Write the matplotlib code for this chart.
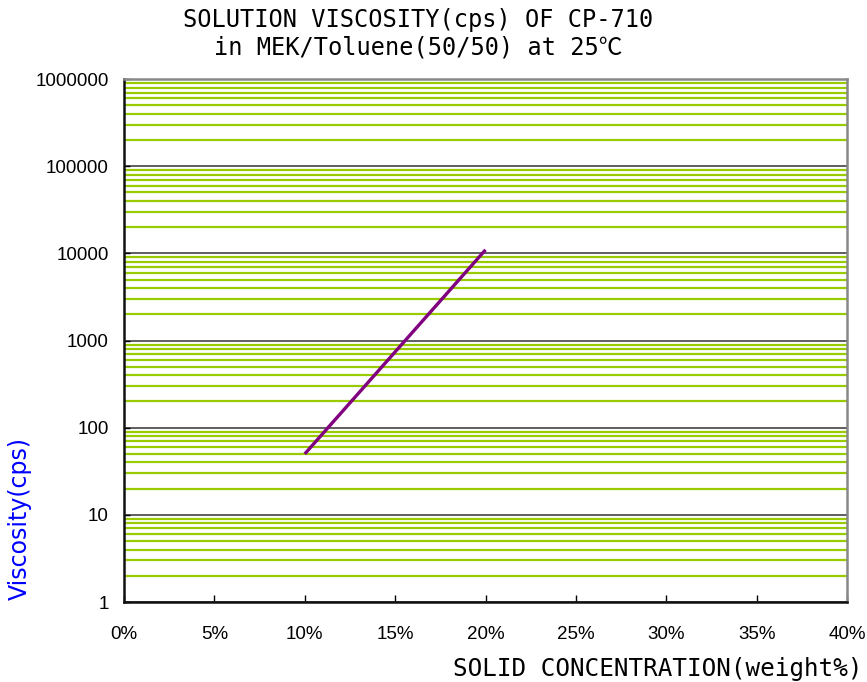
import matplotlib
matplotlib.use('Agg')
import matplotlib.pyplot as plt
import numpy as np
from matplotlib.ticker import FuncFormatter, LogLocator, NullFormatter

plt.rcParams['font.family'] = ['Liberation Sans', 'DejaVu Sans']
plt.rcParams['font.size'] = 12

# 데이터
conc = [10, 20]          # 고형분 농도 (wt%)
visc = [50, 11000]       # 점도 (cps)

x_ticks = [0, 5, 10, 15, 20, 25, 30, 35, 40]
y_ticks = [1, 10, 100, 1000, 10000, 100000, 1000000]

mono = ['DejaVu Sans Mono', 'Noto Sans CJK KR']

fig = plt.figure(figsize=(8.67, 6.82), dpi=100)
ax = fig.add_axes([0.143, 0.1173, 0.834, 0.7667])

ax.set_yscale('log')
ax.set_ylim(1, 1000000)
ax.set_xlim(0, 40)

# 격자선
ax.yaxis.set_minor_locator(LogLocator(base=10, subs=np.arange(2, 10)))
ax.yaxis.set_minor_formatter(NullFormatter())
ax.grid(axis='y', which='minor', color='#99cc00', linewidth=1.6)
ax.grid(axis='y', which='major', color='#333333', linewidth=1.1)
ax.set_axisbelow(True)

ax.plot(conc, visc, color='#800080', linewidth=2.4, solid_capstyle='butt', zorder=3)

ax.set_xticks(x_ticks)
ax.set_xticklabels(['%d%%' % v for v in x_ticks])
ax.set_yticks(y_ticks)
ax.yaxis.set_major_formatter(FuncFormatter(lambda v, p: '%d' % v))

ax.tick_params(axis='x', direction='in', length=5, width=1, pad=17, labelsize=13.5)
ax.tick_params(axis='y', which='major', direction='in', length=4, width=1, pad=11, labelsize=13.5)
ax.tick_params(axis='y', which='minor', length=0)

for s in ['left', 'bottom']:
    ax.spines[s].set_color('#111111')
    ax.spines[s].set_linewidth(1.8)
for s in ['top', 'right']:
    ax.spines[s].set_color('#888888')
    ax.spines[s].set_linewidth(1.8)

fig.text(0.482, 0.988, 'SOLUTION VISCOSITY(cps) OF CP-710\nin MEK/Toluene(50/50) at 25\u2103',
         ha='center', va='top', fontsize=17, family=mono, linespacing=1.2)

fig.text(0.995, 0.002, 'SOLID CONCENTRATION(weight%)', ha='right', va='bottom',
         fontsize=17.5, family=mono)

fig.text(0.023, 0.240, 'Viscosity(cps)', rotation=90, ha='center', va='center',
         fontsize=17, color='#0000ff', family='DejaVu Sans')

fig.savefig('out.png', dpi=100)
